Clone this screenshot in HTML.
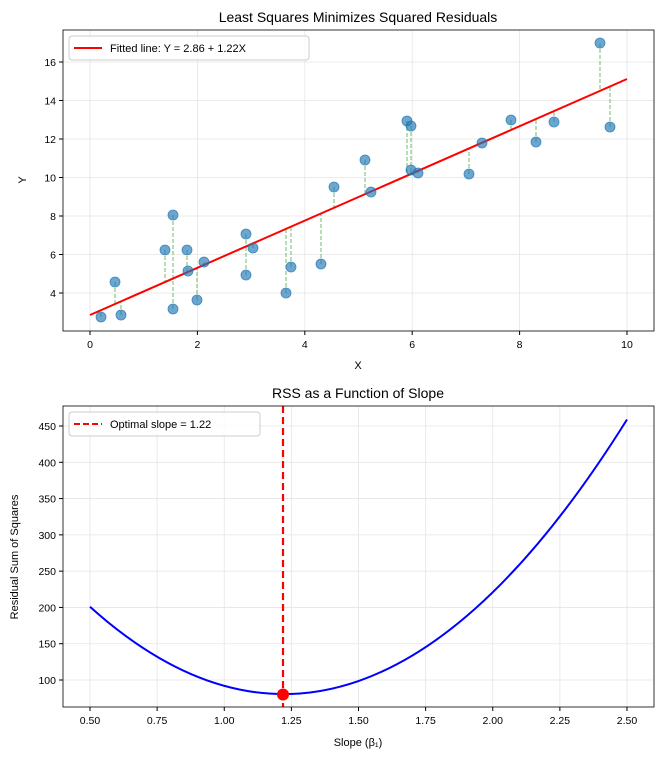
<!DOCTYPE html>
<html><head><meta charset="utf-8"><style>
body{margin:0;background:#fff}
svg{display:block;font-family:"Liberation Sans","DejaVu Sans",sans-serif}
</style></head><body>
<svg id="s" width="662" height="758" viewBox="0 0 662 758" xmlns="http://www.w3.org/2000/svg">
<rect width="662" height="758" fill="#fff"/>
<defs>
<clipPath id="c1"><rect x="63" y="30" width="591" height="301"/></clipPath>
<clipPath id="c2"><rect x="63" y="406" width="591" height="301"/></clipPath>
</defs>
<g id="g"></g>
<text x="358" y="22" font-size="14" text-anchor="middle">Least Squares Minimizes Squared Residuals</text>
<text x="358" y="369" font-size="11" text-anchor="middle">X</text>
<text x="26" y="180" font-size="11" text-anchor="middle" transform="rotate(-90 26 180)">Y</text>
<text x="358" y="398" font-size="14" text-anchor="middle">RSS as a Function of Slope</text>
<text x="358" y="746" font-size="11" text-anchor="middle">Slope (β₁)</text>
<text x="18" y="557" font-size="11" text-anchor="middle" transform="rotate(-90 18 557)">Residual Sum of Squares</text>
</svg>
<script>
var g=document.getElementById('g'),h='';
function L(x1,y1,x2,y2,st){h+='<line x1="'+x1+'" y1="'+y1+'" x2="'+x2+'" y2="'+y2+'" '+st+'/>';}
function T(x,y,t,a){h+='<text x="'+x+'" y="'+y+'" font-size="10.5" text-anchor="'+(a||'middle')+'">'+t+'</text>';}
for(var k=0;k<=5;k++){var x=90+107.4*k;L(x,30,x,331,'stroke="#e5e5e5" stroke-width="0.8"');L(x,331,x,335,'stroke="#000"');T(x,348,2*k);}
for(var k=0;k<=6;k++){var y=293-38.5*k;L(63,y,654,y,'stroke="#e5e5e5" stroke-width="0.8"');L(59,y,63,y,'stroke="#000"');T(56,y+4,4+2*k,'end');}
var bl=['0.50','0.75','1.00','1.25','1.50','1.75','2.00','2.25','2.50'];
for(var k=0;k<9;k++){var x=90+67.125*k;L(x,406,x,707,'stroke="#e5e5e5" stroke-width="0.8"');L(x,707,x,711,'stroke="#000"');T(x,724,bl[k]);}
for(var k=0;k<8;k++){var y=680-36.285*k;L(63,y,654,y,'stroke="#e5e5e5" stroke-width="0.8"');L(59,y,63,y,'stroke="#000"');T(56,y+4,100+50*k,'end');}
var P=[[101,317],[115,282],[121,315],[165,250],[173,215],[173,309],[187,250],[188,271],[197,300],[204,262],[246,234],[246,275],[253,248],[286,293],[291,267],[321,264],[334,187],[365,160],[371,192],[407,121],[411,126],[411,170],[418,173],[469,174],[482,143],[511,120],[536,142],[554,122],[600,43],[610,127]];
function ly(x){return 315-(x-90)*(236/537);}
h+='<g clip-path="url(#c1)">';
P.forEach(function(p){var yl=ly(p[0]);L(p[0],p[1],p[0],yl,'stroke="#5cb85c" stroke-width="0.9" stroke-dasharray="4,2"');});
L(90,315,627,79,'stroke="#f00" stroke-width="2"');
P.forEach(function(p){h+='<circle cx="'+p[0]+'" cy="'+p[1]+'" r="5" fill="#1f77b4" fill-opacity="0.65" stroke="#1f77b4" stroke-opacity="0.8" stroke-width="0.8"/>';});
h+='</g>';
h+='<g clip-path="url(#c2)"><path d="M90,606.7 Q358.5,849 627,419.5" fill="none" stroke="#00f" stroke-width="2"/>';
L(283,406,283,707,'stroke="#f00" stroke-width="2.2" stroke-dasharray="7,4"');
h+='<circle cx="283" cy="694.5" r="6" fill="#f00"/></g>';
h+='<rect x="63" y="30" width="591" height="301" fill="none" stroke="#000" stroke-width="0.8"/>';
h+='<rect x="63" y="406" width="591" height="301" fill="none" stroke="#000" stroke-width="0.8"/>';
h+='<rect x="69" y="36" width="240" height="24" rx="3" fill="#fff" fill-opacity="0.8" stroke="#ccc"/>';
L(74,48,102,48,'stroke="#f00" stroke-width="2"');
h+='<text x="110" y="52" font-size="11">Fitted line: Y = 2.86 + 1.22X</text>';
h+='<rect x="69" y="412" width="191" height="24" rx="3" fill="#fff" fill-opacity="0.8" stroke="#ccc"/>';
L(74,424,102,424,'stroke="#f00" stroke-width="2" stroke-dasharray="6,3"');
h+='<text x="110" y="428" font-size="11">Optimal slope = 1.22</text>';
g.innerHTML=h;
</script>
</body></html>
